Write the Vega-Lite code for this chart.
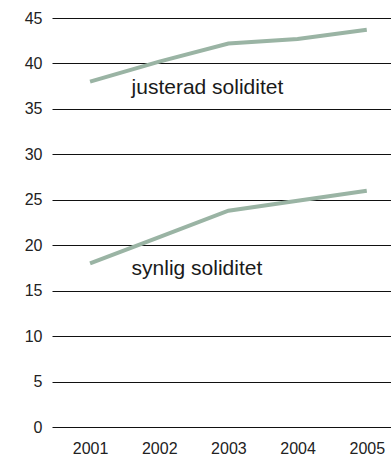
{
  "$schema": "https://vega.github.io/schema/vega-lite/v6.json",
  "width": 339,
  "height": 409,
  "autosize": "none",
  "padding": {"left": 52, "top": 18, "right": 0, "bottom": 32},
  "background": "white",
  "config": {
    "view": {"stroke": null},
    "font": "Liberation Sans",
    "axis": {"labelFont": "Liberation Sans", "labelColor": "#222", "labelFontSize": 16}
  },
  "datasets": {
    "series": [
      {"year": 2001, "value": 38.0, "series": "justerad soliditet"},
      {"year": 2002, "value": 40.2, "series": "justerad soliditet"},
      {"year": 2003, "value": 42.2, "series": "justerad soliditet"},
      {"year": 2004, "value": 42.7, "series": "justerad soliditet"},
      {"year": 2005, "value": 43.7, "series": "justerad soliditet"},
      {"year": 2001, "value": 18.0, "series": "synlig soliditet"},
      {"year": 2002, "value": 20.9, "series": "synlig soliditet"},
      {"year": 2003, "value": 23.8, "series": "synlig soliditet"},
      {"year": 2004, "value": 24.9, "series": "synlig soliditet"},
      {"year": 2005, "value": 26.0, "series": "synlig soliditet"}
    ],
    "labels": [
      {"label": "justerad soliditet", "year": 2001.6, "value": 36.6},
      {"label": "synlig soliditet", "year": 2001.6, "value": 16.7}
    ]
  },
  "layer": [
    {
      "data": {"name": "series"},
      "mark": {"type": "line", "color": "#9ab4a4", "strokeWidth": 4},
      "encoding": {
        "x": {
          "field": "year", "type": "quantitative",
          "scale": {"domain": [2000.45, 2005.35], "nice": false, "zero": false},
          "axis": {"values": [2001, 2002, 2003, 2004, 2005], "format": "d", "title": null, "grid": false, "ticks": false, "domain": false, "labelPadding": 13}
        },
        "y": {
          "field": "value", "type": "quantitative",
          "scale": {"domain": [0, 45], "nice": false},
          "axis": {"values": [0, 5, 10, 15, 20, 25, 30, 35, 40, 45], "title": null, "grid": true, "gridColor": "#111", "gridWidth": 1, "gridOpacity": 1, "ticks": false, "domain": false, "labelPadding": 10}
        },
        "detail": {"field": "series"}
      }
    },
    {
      "data": {"name": "labels"},
      "mark": {"type": "text", "align": "left", "baseline": "alphabetic", "fontSize": 21, "color": "#1a1a1a", "font": "Liberation Sans"},
      "encoding": {
        "x": {"field": "year", "type": "quantitative"},
        "y": {"field": "value", "type": "quantitative"},
        "text": {"field": "label"}
      }
    }
  ]
}
